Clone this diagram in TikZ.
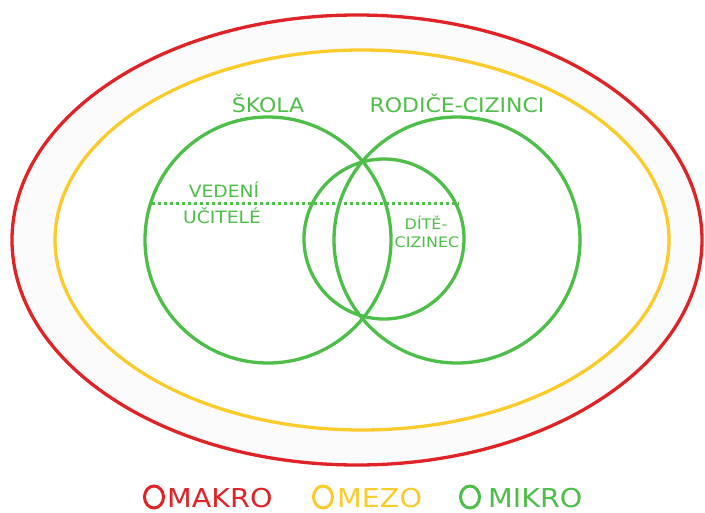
\documentclass[tikz,border=0pt]{standalone}
\usepackage{fontspec}
\setmainfont{DejaVu Sans}
\definecolor{cred}{HTML}{DF2326}
\definecolor{cyel}{HTML}{FBCB2C}
\definecolor{cgrn}{HTML}{4DBE47}
\definecolor{cband}{HTML}{FBFBFB}
\begin{document}
\begin{tikzpicture}[x=1pt,y=-1pt,
  ring/.style={line width=3.3pt},
  lbl/.style={anchor=base,inner sep=0pt,text=cgrn,xscale=1.1},
  leg/.style={anchor=base west,inner sep=0pt,font=\fontsize{26}{28}\selectfont,xscale=1.1},
  legmark/.style={line width=3pt}]
\useasboundingbox (0,0) rectangle (705,512);
% outer ellipses
\draw[ring,draw=cred,fill=cband] (357,240) ellipse [x radius=345,y radius=225];
\draw[ring,draw=cyel,fill=white] (362,240) ellipse [x radius=307,y radius=190];
% green circles
\draw[ring,draw=cgrn] (268,240) circle [radius=123];
\draw[ring,draw=cgrn] (457,240) circle [radius=123];
\draw[ring,draw=cgrn] (384,239) circle [radius=80];
% dotted line
\coordinate (dl) at (152,203);
\coordinate (dr) at (459,203);
\draw[cgrn,line width=3pt,dash pattern=on 3pt off 3pt] (dl) -- (dr);
% labels
\node[lbl,font=\fontsize{20}{24}\selectfont] (skola) at (268,112) {ŠKOLA};
\node[lbl,font=\fontsize{20}{24}\selectfont] (rodice) at (457,112) {RODIČE-CIZINCI};
\node[lbl,font=\fontsize{17}{20}\selectfont] (vedeni) at (224,197) {VEDENÍ};
\node[lbl,font=\fontsize{17}{20}\selectfont] (ucitele) at (222,223) {UČITELÉ};
\node[lbl,font=\fontsize{14.5}{16}\selectfont] (dite) at (426,229) {DÍTĚ-};
\node[lbl,font=\fontsize{14.5}{16}\selectfont] (cizinec) at (427,247) {CIZINEC};
% legend
\draw[legmark,cred] (154,497) ellipse [x radius=9.5,y radius=11];
\node[leg,text=cred] (makro) at (167,507) {MAKRO};
\draw[legmark,cyel] (323,497) ellipse [x radius=9.5,y radius=11];
\node[leg,text=cyel] (mezo) at (337,507) {MEZO};
\draw[legmark,cgrn] (470,497) ellipse [x radius=9.5,y radius=11];
\node[leg,text=cgrn] (mikro) at (488,507) {MIKRO};
\end{tikzpicture}
\end{document}
